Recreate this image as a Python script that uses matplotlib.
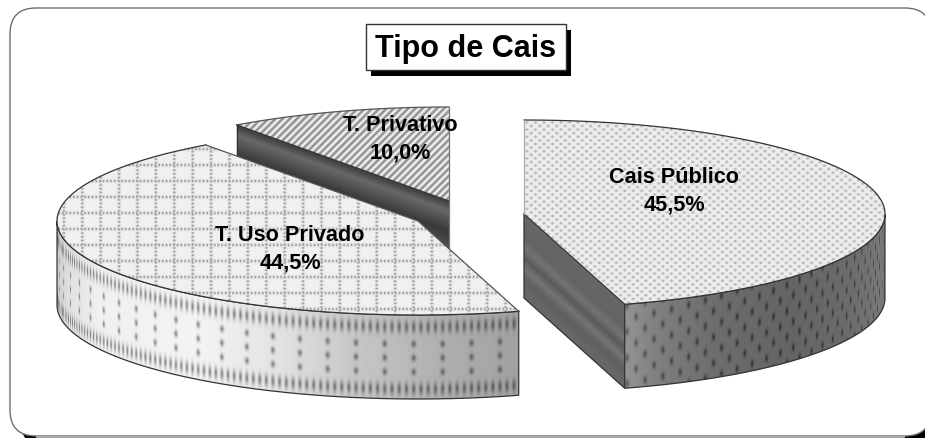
#!/usr/bin/env python3
import numpy as np
import matplotlib
matplotlib.use('Agg')
from matplotlib import pyplot as plt
from matplotlib.patches import Polygon, FancyBboxPatch, Rectangle

plt.rcParams['font.family'] = ['Liberation Sans', 'DejaVu Sans']

title = 'Tipo de Cais'
# in drawing order: back slice first
slice_names = ['T. Privativo', 'T. Uso Privado', 'Cais Público']
slice_values = [10.0, 44.5, 45.5]

W, H = 925, 438
RX, RY, DEPTH = 361, 94, 84
XX, YY = np.meshgrid(np.arange(W) + 0.5, np.arange(H) + 0.5)

# where each exploded slice has its apex, in pixels
cais_c = (524, 214)
uso_c = (418, 221)
priv_c = (449, 201)


def rim(c, a):
    # a is degrees clockwise from 12 o'clock
    a = np.radians(a)
    return c[0] + RX * np.sin(a), c[1] - RY * np.cos(a)


def arc(c, a0, a1, dy=0, n=120):
    x, y = rim(c, np.linspace(a0, a1, n))
    return np.column_stack((x, y + dy))


def soft_dots(x, y, dx, dy, sx, sy, stagger=True):
    row = np.round(y / dy)
    shift = (row % 2) * dx / 2 if stagger else 0
    du = (x + shift + dx / 2) % dx - dx / 2
    dv = y - row * dy
    return np.exp(-(du / sx) ** 2 - (dv / sy) ** 2)


def paint(ax, img, pts, z):
    poly = Polygon(pts, closed=True, transform=ax.transData, fc='none', ec='none')
    ax.add_patch(poly)
    im = ax.imshow(img, cmap='gray', vmin=0, vmax=255, extent=(0, W, H, 0),
                   interpolation='bilinear', zorder=z, aspect='auto')
    im.set_clip_path(poly)


def outline(ax, pts, z, close=True, color='#333333'):
    pts = np.asarray(pts)
    if close:
        pts = np.vstack((pts, pts[:1]))
    ax.plot(pts[:, 0], pts[:, 1], color=color, lw=0.9, zorder=z,
            solid_joinstyle='miter')


def wall_coords(c):
    t = np.clip((XX - c[0]) / RX, -1, 1)
    u = RX * np.arcsin(t)
    v = YY - (c[1] + RY * np.sqrt(1 - t ** 2))
    return u, v


def cut_v(c, p):
    return YY - (c[1] + (XX - c[0]) * (p[1] - c[1]) / (p[0] - c[0]))


def main():
    # going clockwise from the top: Cais, Uso, Privativo
    a_cais = slice_values[2] * 3.6
    a_uso = a_cais + slice_values[1] * 3.6

    fig = plt.figure(figsize=(W / 100, H / 100), dpi=100)
    ax = fig.add_axes((0, 0, 1, 1))
    ax.set_xlim(0, W)
    ax.set_ylim(H, 0)
    ax.axis('off')

    # frame, runs off the right side; the shadow only shows in the bottom corners
    ax.add_patch(FancyBboxPatch((20, 300), 921, 146, boxstyle='round,pad=0,rounding_size=26',
                                fc='black', ec='none', zorder=1))
    ax.add_patch(FancyBboxPatch((10, 8), 921, 428, boxstyle='round,pad=0,rounding_size=26',
                                fc='white', ec='#6e6e6e', lw=1.0, zorder=2))
    ax.add_patch(Rectangle((36, 436), 869, 2, fc='#a8a8a8', ec='none', zorder=3))

    # --- T. Privativo
    p = rim(priv_c, a_uso)
    v = cut_v(priv_c, p)
    img = np.interp(v, [0, 3, 10, 20, 30, 40, 50, 84], [62, 72, 104, 82, 58, 70, 92, 70])
    paint(ax, img, [priv_c, p, (p[0], p[1] + DEPTH), (priv_c[0], priv_c[1] + DEPTH)], 4)
    stripe = 0.5 + 0.5 * np.sin(2 * np.pi * (XX + YY) / 7.2)
    img = 150 + 85 * np.clip(stripe * 1.6 - 0.3, 0, 1)
    top = np.vstack(([priv_c], arc(priv_c, a_uso, 360)))
    paint(ax, img, top, 5)
    outline(ax, arc(priv_c, a_uso, 360), 6, False, '#555555')
    outline(ax, [p, priv_c], 6, False)
    outline(ax, [rim(priv_c, 360), (priv_c[0], priv_c[1] + DEPTH)], 6, False, '#777777')
    outline(ax, [p, (p[0], p[1] + DEPTH)], 6, False)

    # --- T. Uso Privado
    u, v = wall_coords(uso_c)
    base = np.interp(XX, [57, 70, 100, 200, 280, 350, 430, 519],
                     [205, 225, 240, 243, 226, 200, 178, 160])
    uu = u - 82.7 + uso_c[0] - 418
    du = (uu + 14.5) % 29 - 14.5
    dashes = np.exp(-(du / 2.3) ** 2) * np.exp(-(((v - 29 + 7) % 14 - 7) / 3.4) ** 2)
    dashes[(v < 22) | (v > 64)] = 0
    du2 = (uu + 3.6) % 7.25 - 3.6
    band = np.exp(-(du2 / 1.9) ** 2) * (np.exp(-((v - 12) / 6) ** 2) + np.exp(-((v - 74) / 6) ** 2))
    img = base * (1 - 0.42 * np.maximum(dashes, band))
    wall = np.vstack((arc(uso_c, a_cais, 270), arc(uso_c, 270, a_cais, DEPTH)))
    paint(ax, img, wall, 7)
    outline(ax, wall, 8)

    grid_v = np.exp(-(((XX - 82.3 + 9.2) % 18.4 - 9.2) / 1.5) ** 2) * (0.55 + 0.45 * np.cos(2 * np.pi * YY / 3.7))
    grid_h = np.exp(-(((YY - 165 + 8) % 16 - 8) / 1.5) ** 2) * (0.55 + 0.45 * np.cos(2 * np.pi * XX / 3.7))
    img = 240 - 85 * np.maximum(grid_v, grid_h)
    top = np.vstack(([uso_c], arc(uso_c, a_cais, a_uso)))
    paint(ax, img, top, 9)
    outline(ax, arc(uso_c, a_cais, a_uso), 10, False)
    outline(ax, [rim(uso_c, a_cais), uso_c], 10, False, '#555555')
    outline(ax, [rim(uso_c, a_uso), uso_c], 10, False, '#555555')

    # --- Cais Publico
    p = rim(cais_c, a_cais)
    v = cut_v(cais_c, p)
    img = np.interp(v, [0, 24, 34, 44, 54, 64, 84], [102, 100, 114, 90, 116, 96, 104])
    cut = [cais_c, p, (p[0], p[1] + DEPTH), (cais_c[0], cais_c[1] + DEPTH)]
    paint(ax, img, cut, 11)
    outline(ax, [cais_c, (cais_c[0], cais_c[1] + DEPTH), (p[0], p[1] + DEPTH), p], 12, False)

    u, v = wall_coords(cais_c)
    base = np.interp(XX, [627, 660, 710, 790, 850, 885], [146, 126, 110, 100, 108, 122])
    img = base - 52 * soft_dots(u, v + 0.11 * u, 19, 13, 2.0, 3.8)
    wall = np.vstack((arc(cais_c, a_cais, 90), arc(cais_c, 90, a_cais, DEPTH)))
    paint(ax, img, wall, 13)
    outline(ax, wall, 14)

    img = 238 - 62 * soft_dots(XX, YY, 8.5, 3.6, 1.6, 1.4)
    top = np.vstack(([cais_c], arc(cais_c, 0, a_cais)))
    paint(ax, img, top, 15)
    outline(ax, arc(cais_c, 0, a_cais), 16, False)
    outline(ax, [rim(cais_c, a_cais), cais_c], 16, False)
    outline(ax, [rim(cais_c, 0), cais_c], 16, False, '#aaaaaa')

    # labels, same order as slice_names
    label_at = [(400, 139), (290, 249), (674, 191.5)]
    for name, val, pos in zip(slice_names, slice_values, label_at):
        txt = '{}\n{}%'.format(name, '{:.1f}'.format(val).replace('.', ','))
        ax.text(pos[0], pos[1], txt, ha='center', va='center', fontsize=15.6,
                fontweight='bold', color='black', linespacing=1.42, zorder=20)

    # title box with its hard shadow
    ax.add_patch(Rectangle((371, 30), 200, 46, fc='black', ec='none', zorder=21))
    ax.add_patch(Rectangle((366, 24), 200, 46, fc='white', ec='#333333', lw=1.0, zorder=22))
    ax.text(466, 49, title, ha='center', va='center', fontsize=22,
            fontweight='bold', color='black', zorder=23)

    ax.set_xlim(0, W)
    ax.set_ylim(H, 0)
    fig.savefig('out.png', dpi=100)
    plt.close(fig)


if __name__ == '__main__':
    main()
